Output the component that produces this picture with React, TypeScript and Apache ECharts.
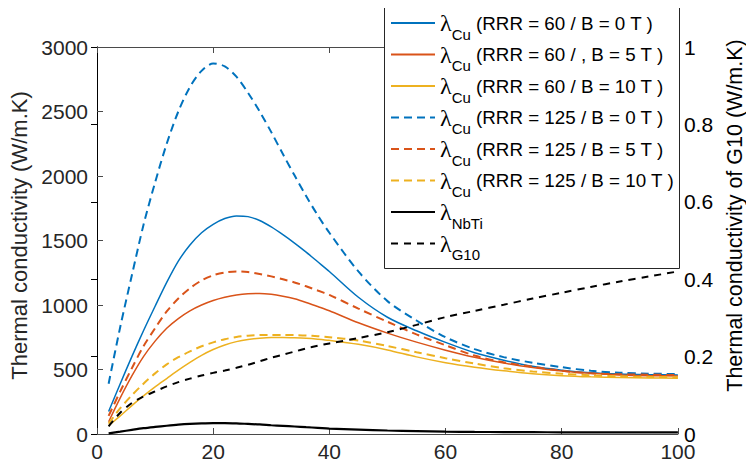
import React, { useEffect, useRef } from "react";
import * as echarts from "echarts";

const temps = [2, 4, 6, 8, 10, 12, 14, 16, 18, 20, 22, 24, 26, 28, 30, 32, 34, 36, 38, 40, 45, 50, 55, 60, 65, 70, 75, 80, 85, 90, 95, 100];

const cu60B0 = [175, 390, 600, 800, 990, 1175, 1340, 1465, 1560, 1625, 1670, 1690, 1685, 1655, 1605, 1545, 1480, 1410, 1335, 1260, 1060, 905, 800, 710, 630, 572, 525, 495, 475, 465, 460, 457];
const cu60B5 = [95, 280, 450, 600, 720, 820, 895, 955, 1000, 1035, 1060, 1078, 1088, 1090, 1083, 1068, 1048, 1020, 988, 955, 862, 782, 712, 650, 595, 550, 515, 488, 470, 458, 452, 450];
const cu60B10 = [65, 140, 220, 295, 365, 430, 495, 555, 610, 655, 690, 716, 733, 743, 748, 748, 746, 742, 735, 726, 695, 652, 598, 553, 518, 490, 467, 452, 443, 438, 435, 432];
const cu125B0 = [390, 830, 1230, 1620, 1950, 2250, 2500, 2690, 2815, 2872, 2850, 2770, 2645, 2500, 2340, 2170, 2005, 1845, 1695, 1560, 1260, 1030, 880, 750, 658, 596, 552, 518, 490, 475, 468, 465];
const cu125B5 = [140, 330, 510, 680, 820, 950, 1050, 1130, 1190, 1230, 1252, 1260, 1255, 1240, 1222, 1200, 1175, 1145, 1112, 1078, 972, 870, 772, 688, 608, 556, 522, 490, 470, 463, 460, 457];
const cu125B10 = [80, 200, 300, 390, 470, 540, 595, 640, 680, 710, 735, 752, 762, 767, 768, 768, 767, 764, 758, 750, 725, 682, 634, 588, 546, 510, 485, 467, 455, 447, 443, 440];
const nbti = [5, 18, 32, 45, 55, 64, 72, 78, 82, 84, 84, 82, 78, 74, 68, 63, 58, 53, 48, 42, 34, 27, 22, 18, 16, 15, 14, 13, 13, 12, 12, 12];
const g10 = [0.02, 0.055, 0.08, 0.097, 0.11, 0.123, 0.134, 0.143, 0.151, 0.158, 0.164, 0.171, 0.179, 0.188, 0.197, 0.205, 0.213, 0.221, 0.228, 0.234, 0.248, 0.263, 0.282, 0.302, 0.318, 0.334, 0.35, 0.365, 0.38, 0.394, 0.407, 0.42];

const legendSubs = ["Cu", "Cu", "Cu", "Cu", "Cu", "Cu", "NbTi", "G10"];
const legendTexts = [
  " (RRR = 60 / B = 0 T )",
  " (RRR = 60 / , B = 5 T )",
  " (RRR = 60 / B = 10 T )",
  " (RRR = 125 / B = 0 T )",
  " (RRR = 125 / B = 5 T )",
  " (RRR = 125 / B = 10 T )",
  "",
  "",
];

const xTicks = { min: 0, max: 100, interval: 20 };
const leftTicks = { min: 0, max: 3000, interval: 500 };
const rightTicks = { min: 0, max: 1, interval: 0.2 };

const BLUE = "#0072BD";
const RED = "#D95319";
const YELLOW = "#EDB120";
const FONT = "Liberation Sans";
const FRAME = "#4a4a4a";

export default function App() {
  const ref = useRef<HTMLDivElement>(null);
  useEffect(() => {
    if (!ref.current) return;
    const chart = echarts.init(ref.current, null, { renderer: "svg" });
    const names = legendSubs.map((s, i) => "λ" + s + legendTexts[i]);
    const pair = (arr: number[]) => temps.map((t, i) => [t, arr[i]]);
    const mk = (i: number, arr: number[], color: string, dash: number[] | null, width: number, yAxisIndex = 0) => ({
      name: names[i],
      type: "line",
      data: pair(arr),
      yAxisIndex,
      smooth: 0.3,
      symbol: "none",
      lineStyle: { color, width, type: dash ? dash : "solid" },
      itemStyle: { color },
      z: 2,
    });
    const axisText = { color: "#262626", fontSize: 21, fontFamily: FONT };
    chart.setOption({
      animation: false,
      grid: { left: 97, right: 60, top: 47, bottom: 34, containLabel: false },
      graphic: [
        {
          type: "rect",
          left: 384,
          top: 6,
          z: 3,
          shape: { width: 295, height: 262 },
          style: { fill: "#fff", stroke: "#262626", lineWidth: 1 },
        },
      ],
      xAxis: [
        {
          type: "value",
          ...xTicks,
          position: "bottom",
          axisLine: { show: true, lineStyle: { color: FRAME, width: 1 } },
          axisTick: { show: true, inside: true, length: 6, lineStyle: { color: FRAME } },
          axisLabel: { ...axisText, margin: 7 },
          splitLine: { show: false },
        },
        {
          type: "value",
          ...xTicks,
          position: "top",
          axisLine: { show: true, onZero: false, lineStyle: { color: FRAME, width: 1 } },
          axisTick: { show: true, inside: true, length: 6, lineStyle: { color: FRAME } },
          axisLabel: { show: false },
          splitLine: { show: false },
        },
      ],
      yAxis: [
        {
          type: "value",
          ...leftTicks,
          position: "left",
          name: "Thermal conductivity (W/m.K)",
          nameLocation: "middle",
          nameGap: 53,
          nameTextStyle: { color: "#262626", fontSize: 22, fontFamily: FONT, padding: [0, 0, 0, 10] },
          axisLine: { show: true, lineStyle: { color: FRAME, width: 1 } },
          axisTick: { show: true, inside: true, length: 6, lineStyle: { color: FRAME } },
          axisLabel: { ...axisText, margin: 9, formatter: (v: number) => String(v) },
          splitLine: { show: false },
        },
        {
          type: "value",
          ...rightTicks,
          position: "right",
          name: "Thermal conductivity of G10 (W/m.K)",
          nameLocation: "middle",
          nameGap: 36,
          nameTextStyle: { color: "#000", fontSize: 21.5, fontFamily: FONT, padding: [0, 0, 0, 50] },
          axisLine: { show: true, lineStyle: { color: "#000", width: 1 } },
          axisTick: { show: true, inside: true, length: 6, lineStyle: { color: "#000" } },
          axisLabel: { color: "#000", fontSize: 21, fontFamily: FONT, margin: 6, formatter: (v: number) => String(Math.round(v * 10) / 10) },
          splitLine: { show: false },
        },
      ],
      legend: {
        orient: "vertical",
        left: 384,
        top: 6,
        z: 4,
        padding: [5, 0, 4, 6],
        itemGap: 1,
        itemWidth: 44,
        itemHeight: 14,
        backgroundColor: "transparent",
        borderWidth: 0,
        itemStyle: { opacity: 0 },
        data: names,
        formatter: (name: string) => {
          const i = names.indexOf(name);
          const t = legendTexts[i] ? `{t|${legendTexts[i]}}` : "";
          return `{l|λ}{s|${legendSubs[i]}}${t}`;
        },
        textStyle: {
          color: "#000",
          fontFamily: FONT,
          fontSize: 19,
          rich: {
            l: { fontSize: 24, fontFamily: "Liberation Serif", color: "#000" },
            s: { fontSize: 15, fontFamily: FONT, color: "#000", padding: [22, 0, 0, 0] },
            t: { fontSize: 18.8, fontFamily: FONT, color: "#000" },
          },
        },
      },
      series: [
        mk(0, cu60B0, BLUE, null, 1.5),
        mk(1, cu60B5, RED, null, 1.5),
        mk(2, cu60B10, YELLOW, null, 1.5),
        mk(3, cu125B0, BLUE, [8, 5], 2),
        mk(4, cu125B5, RED, [8, 5], 2),
        mk(5, cu125B10, YELLOW, [8, 5], 2),
        mk(6, nbti, "#000", null, 2.2),
        mk(7, g10, "#000", [7, 6], 2, 1),
      ],
    });
    return () => chart.dispose();
  }, []);
  return <div ref={ref} style={{ width: 754, height: 468, margin: -8 }} />;
}
